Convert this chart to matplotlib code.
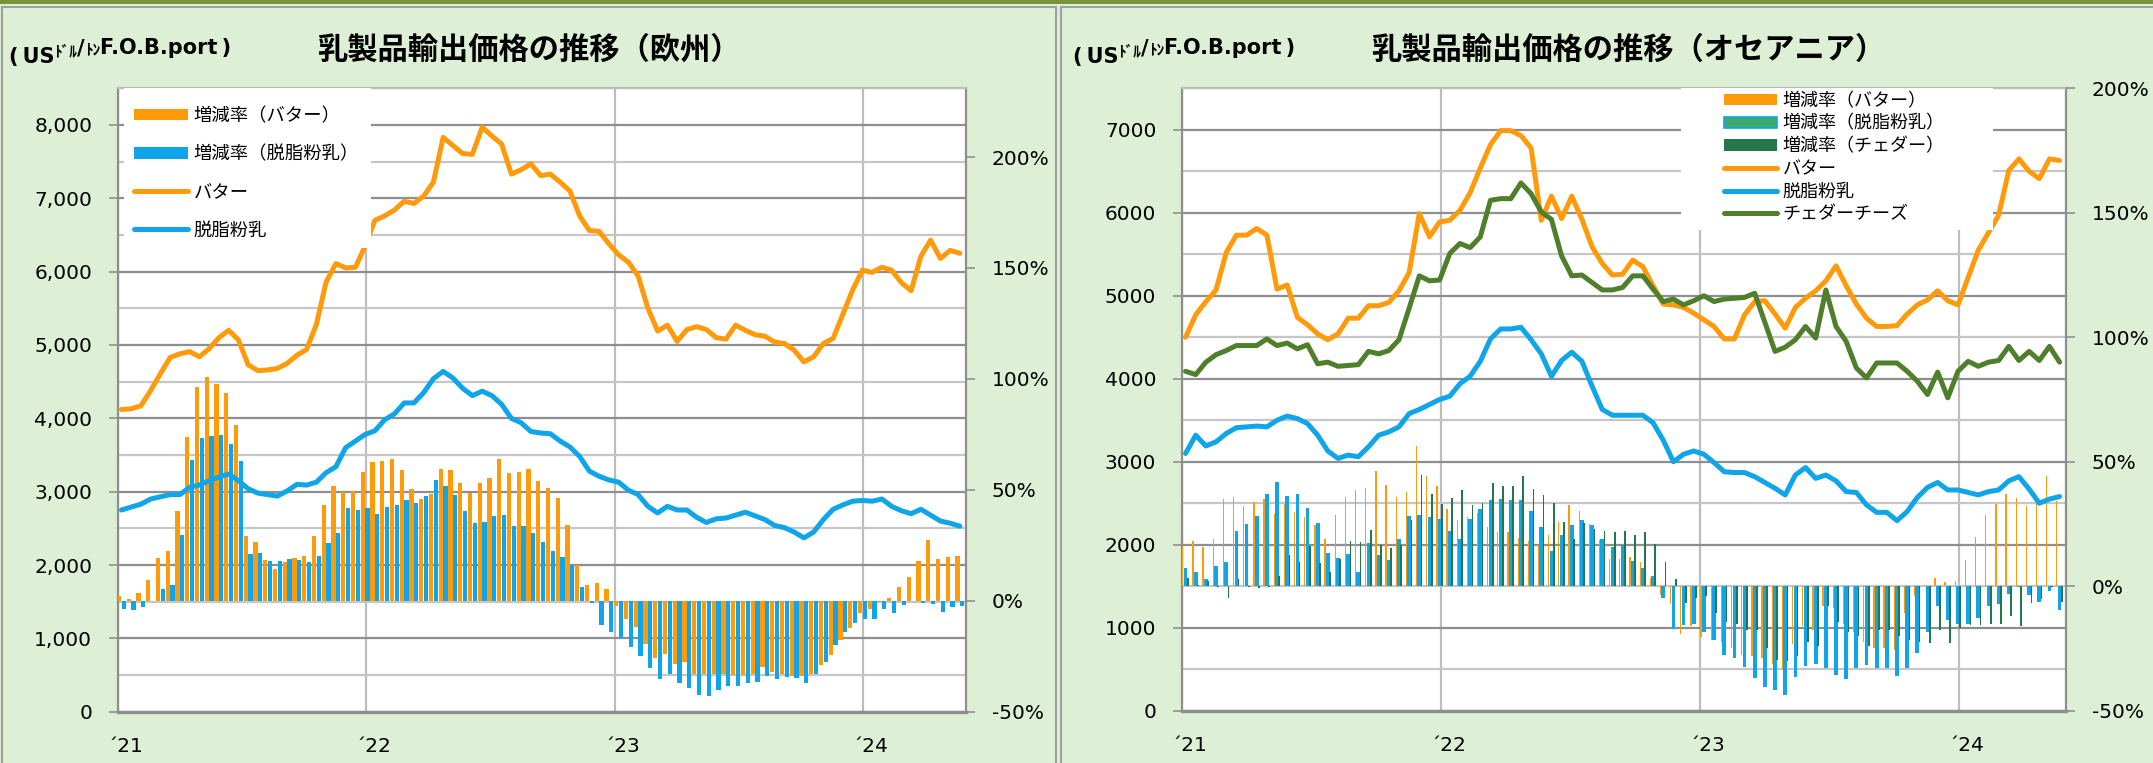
import numpy as np
import pandas as pd
import matplotlib
matplotlib.use("Agg")
import matplotlib.pyplot as plt
import matplotlib.dates as mdates
from matplotlib.patches import Rectangle, Patch
from matplotlib.lines import Line2D
from matplotlib.text import Annotation
from matplotlib.transforms import ScaledTranslation

plt.rcParams['font.family'] = ['DejaVu Sans', 'Noto Sans CJK JP']

# --- data (biweekly, USD/t F.O.B. and y/y change in %) --------------------
dates = pd.date_range('2021-01-06', '2024-05-22', periods=87)
year_ticks = pd.to_datetime(['2021-01-01', '2022-01-01', '2023-01-01', '2024-01-01'])
year_labels = ['\u00b421', '\u00b422', '\u00b423', '\u00b424']

eu_butter = [4120, 4130, 4170, 4380, 4610, 4830, 4880, 4910, 4840, 4950,
             5100, 5200, 5070, 4730, 4650, 4660, 4680, 4750, 4860, 4940,
             5280, 5860, 6110, 6050, 6060, 6350, 6700, 6760, 6840, 6960,
             6930, 7030, 7220, 7830, 7720, 7610, 7600, 7970, 7850, 7740,
             7330, 7390, 7470, 7310, 7330, 7220, 7100, 6760, 6560, 6550,
             6380, 6230, 6130, 5940, 5500, 5190, 5270, 5050, 5210, 5250,
             5210, 5100, 5080, 5270, 5200, 5140, 5120, 5040, 5020, 4930,
             4770, 4840, 5020, 5090, 5420, 5750, 6020, 5990, 6060, 6020,
             5850, 5740, 6210, 6430, 6180, 6290, 6250]
eu_smp = [2750, 2790, 2830, 2900, 2930, 2960, 2960, 3060, 3090, 3150,
          3200, 3240, 3150, 3040, 2980, 2960, 2940, 3010, 3100, 3090,
          3130, 3260, 3340, 3600, 3690, 3780, 3830, 3980, 4060, 4210,
          4210, 4350, 4540, 4640, 4550, 4410, 4310, 4370, 4310, 4190,
          4000, 3940, 3820, 3800, 3790, 3690, 3610, 3480, 3280, 3210,
          3160, 3130, 3020, 2960, 2800, 2710, 2800, 2750, 2750, 2650,
          2580, 2630, 2640, 2680, 2720, 2670, 2620, 2540, 2510, 2450,
          2370, 2450, 2620, 2760, 2820, 2870, 2880, 2870, 2900, 2800,
          2740, 2700, 2760, 2680, 2600, 2570, 2530]
eu_butter_yoy = [2.1, 1.0, 3.3, 9.3, 19.1, 22.3, 40.4, 73.6, 96.2, 100.7,
                 97.5, 93.7, 79.4, 29.2, 26.3, 18.2, 14.2, 17.5, 19.1, 20.2,
                 29.2, 43.2, 51.8, 49.1, 49.5, 58.0, 62.5, 63.1, 64.0, 59.1,
                 50.4, 45.9, 48.0, 59.4, 59.1, 53.1, 48.6, 53.1, 55.3, 64.0,
                 57.6, 58.2, 59.4, 54.0, 50.9, 46.4, 34.1, 16.0, 7.0, 8.2,
                 5.1, -2.4, -8.1, -11.7, -19.3, -25.6, -23.8, -28.3, -27.8, -32.9,
                 -32.9, -32.9, -33.2, -33.4, -33.4, -33.2, -29.8, -32.0, -32.9, -33.8,
                 -34.1, -32.9, -28.9, -24.4, -17.5, -12.1, -5.4, -3.5, -0.4, 1.2,
                 6.0, 10.9, 17.8, 27.2, 18.7, 19.6, 20.0]
eu_smp_yoy = [-3.9, -4.3, -3.0, 0.0, 5.5, 7.3, 29.6, 63.6, 73.4, 74.3,
              74.8, 70.7, 63.1, 21.1, 21.4, 17.8, 17.8, 18.7, 18.2, 17.5,
              20.2, 26.0, 30.5, 41.9, 41.0, 41.9, 39.2, 42.3, 43.2, 45.3,
              44.1, 47.3, 54.4, 51.7, 47.7, 40.4, 35.0, 35.4, 38.1, 38.6,
              33.7, 33.6, 30.5, 26.5, 22.3, 19.6, 16.0, 6.4, -1.2, -10.8,
              -14.2, -16.6, -20.7, -25.1, -30.5, -35.2, -33.2, -37.0, -39.2, -42.5,
              -42.8, -40.1, -38.6, -38.6, -36.9, -36.5, -33.8, -35.2, -34.3, -35.0,
              -37.0, -33.2, -27.4, -19.8, -13.9, -10.2, -8.4, -8.1, -3.5, -5.4,
              -2.1, -0.3, -1.2, -1.5, -5.2, -3.0, -2.4]

oc_butter = [4500, 4770, 4930, 5070, 5520, 5730, 5730, 5810, 5730, 5080,
             5130, 4740, 4650, 4540, 4470, 4540, 4730, 4730, 4880, 4880,
             4920, 5060, 5280, 5990, 5710, 5890, 5910, 6030, 6240, 6540,
             6820, 6990, 6990, 6930, 6780, 5910, 6200, 5930, 6200, 5920,
             5590, 5390, 5250, 5260, 5430, 5350, 5120, 4900, 4890, 4860,
             4790, 4710, 4630, 4480, 4480, 4770, 4930, 4940, 4780, 4610,
             4860, 4970, 5060, 5180, 5360, 5120, 4900, 4730, 4630, 4630,
             4640, 4780, 4890, 4950, 5060, 4940, 4890, 5220, 5550, 5760,
             5970, 6510, 6650, 6500, 6410, 6650, 6630]
oc_smp = [3100, 3320, 3190, 3240, 3340, 3410, 3420, 3430, 3420, 3500,
          3550, 3520, 3460, 3320, 3130, 3040, 3080, 3060, 3180, 3320,
          3360, 3420, 3580, 3630, 3690, 3750, 3790, 3940, 4030, 4210,
          4480, 4600, 4600, 4620, 4470, 4300, 4030, 4220, 4320, 4210,
          3910, 3630, 3560, 3560, 3560, 3560, 3470, 3260, 3000, 3090,
          3130, 3090, 2990, 2880, 2870, 2870, 2820, 2750, 2680, 2600,
          2840, 2930, 2800, 2840, 2770, 2640, 2630, 2480, 2390, 2390,
          2290, 2400, 2570, 2690, 2750, 2660, 2660, 2630, 2600, 2640,
          2660, 2770, 2820, 2670, 2500, 2550, 2580]
oc_cheddar = [4090, 4050, 4200, 4290, 4340, 4400, 4400, 4400, 4480, 4400,
              4430, 4360, 4410, 4180, 4200, 4150, 4160, 4170, 4330, 4300,
              4340, 4470, 4850, 5240, 5180, 5190, 5510, 5630, 5580, 5710,
              6150, 6170, 6170, 6360, 6230, 6010, 5920, 5480, 5240, 5250,
              5160, 5070, 5070, 5100, 5240, 5240, 5080, 4930, 4960, 4890,
              4940, 5000, 4930, 4960, 4970, 4980, 5030, 4680, 4330, 4380,
              4470, 4630, 4490, 5070, 4630, 4450, 4130, 4010, 4190, 4190,
              4190, 4090, 3970, 3810, 4080, 3770, 4090, 4210, 4150, 4200,
              4220, 4390, 4220, 4330, 4220, 4390, 4200]
oc_butter_yoy = [15.9, 18.0, 15.6, 18.8, 35.0, 35.8, 32.2, 33.8, 35.0, 29.0,
                 33.0, 29.8, 28.0, 24.5, 18.8, 28.5, 35.8, 38.7, 39.5, 46.3,
                 40.6, 35.8, 37.7, 56.3, 44.3, 40.3, 31.2, 26.4, 27.7, 29.3,
                 23.7, 21.7, 21.7, 19.3, 18.0, 16.4, 20.4, 25.6, 32.5, 30.1,
                 24.8, 18.5, 10.8, 11.1, 11.6, 9.6, 3.5, -3.4, -7.3, -19.1,
                 -15.9, -20.2, -21.5, -22.3, -24.8, -27.7, -28.0, -28.8, -31.2, -33.6,
                 -23.1, -15.9, -17.5, -7.8, -8.6, -15.1, -18.3, -22.3, -24.8, -24.8,
                 -25.6, -10.7, -4.1, 0.6, 3.5, 1.6, 1.9, 10.4, 19.9, 28.5,
                 32.9, 36.9, 35.4, 32.1, 33.3, 44.3, 34.2]
oc_smp_yoy = [7.5, 5.6, 3.0, 8.0, 9.9, 22.0, 24.8, 28.2, 37.0, 41.7,
              36.1, 37.0, 31.4, 25.3, 13.2, 11.2, 12.9, 5.9, 17.5, 12.4,
              10.4, 19.1, 28.2, 28.5, 27.7, 27.2, 22.0, 19.1, 26.9, 30.9,
              34.5, 35.0, 34.6, 34.6, 30.4, 23.7, 14.0, 20.4, 24.5, 26.4,
              24.5, 19.1, 15.6, 16.4, 10.0, 7.5, 4.0, -4.6, -17.0, -15.4,
              -15.1, -18.3, -21.5, -27.7, -28.8, -32.5, -36.9, -40.4, -41.7, -43.8,
              -36.4, -32.0, -31.2, -32.8, -35.7, -37.3, -32.8, -31.7, -32.8, -32.8,
              -36.1, -32.8, -26.7, -18.3, -7.8, -13.5, -15.1, -15.1, -12.7, -7.8,
              -7.0, -3.0, -0.2, -3.4, -6.2, -1.8, -9.4]
oc_cheddar_yoy = [3.5, 0.6, 1.9, -0.5, -4.6, 2.7, -0.5, -0.9, -0.5, 4.3,
                  12.4, 9.9, 16.1, 9.5, 5.9, 10.8, 18.0, 17.7, 22.4, 16.4,
                  15.3, 16.4, 26.4, 44.6, 37.0, 32.9, 35.3, 38.5, 32.5, 33.3,
                  41.4, 40.1, 40.1, 44.2, 39.0, 36.6, 33.3, 25.6, 18.8, 25.3,
                  22.9, 22.0, 21.6, 22.0, 20.4, 21.6, 16.9, 9.9, 2.7, -6.7,
                  -4.6, -3.8, -10.7, -14.3, -15.1, -17.5, -17.5, -24.8, -29.6, -30.0,
                  -28.0, -22.3, -24.0, -7.8, -14.3, -18.3, -19.9, -24.0, -17.5, -17.5,
                  -19.9, -21.5, -22.3, -22.8, -17.5, -22.8, -16.7, -15.4, -15.4, -15.1,
                  -15.1, -11.9, -15.9, -6.7, -5.1, -0.2, -6.2]

# --- style ---------------------------------------------------------------
W, H = 2153, 763
BG = '#DDEFD5'
OLIVE = '#77933C'
ORANGE = '#FF9A0A'
BLUE = '#0FA5E8'
LGREEN = '#4F7F2B'
DGREEN = '#23784A'
GRID_MAJ = '#8E8E8E'
GRID_MIN = '#C6C6C6'
JP = ['Noto Sans CJK JP']
MIX = ['DejaVu Sans', 'Noto Sans CJK JP']

fig = plt.figure(figsize=(W / 100, H / 100), dpi=100)
fig.patch.set_facecolor(BG)

# top band and panel frames
fig.add_artist(Rectangle((0, 1 - 4 / H), 1, 4 / H, transform=fig.transFigure,
                         facecolor=OLIVE, edgecolor='none'))
fig.add_artist(Rectangle((2 / W, -0.05), 1054 / W, 1.05 - 7.5 / H, transform=fig.transFigure,
                         fill=False, edgecolor='#A0A0A0', lw=1.5))
fig.add_artist(Rectangle((1061 / W, -0.05), 1.0, 1.05 - 7.5 / H, transform=fig.transFigure,
                         fill=False, edgecolor='#A0A0A0', lw=1.5))

xnum = mdates.date2num(dates)


def unit_label(x, y):
    # (USﾄﾞﾙ/ﾄﾝF.O.B.port) with the small katakana raised
    t = fig.text(x / W, 1 - y / H, '(\u2009US', va='baseline', ha='left',
                 fontsize=15, weight='bold', family=MIX)
    pieces = [('ﾄﾞﾙ', 11, 0.40), ('/', 15, 0.0), ('ﾄﾝ', 11, 0.06),
              ('F.O.B.port\u2009)', 15, 0.0)]
    for s, fs, dy in pieces:
        t = fig.add_artist(Annotation(s, xy=(1, dy), xycoords=t, va='bottom', ha='left',
                                      annotation_clip=False, fontsize=fs, weight='bold',
                                      family=MIX))


def panel(rect, ymax, pct_max, bar_specs, line_specs, comma, title, tx, leg_box, leg_anchor,
          leg_fs, leg_spacing):
    l, t, r, b = rect
    ax = fig.add_axes([l / W, 1 - b / H, (r - l) / W, (b - t) / H])
    ax.set_facecolor('white')
    ax.set_xlim(mdates.date2num(pd.Timestamp('2021-01-01')),
                mdates.date2num(pd.Timestamp('2021-01-01') + pd.Timedelta(days=1246)))
    ax.set_ylim(0, ymax)
    major = np.arange(0, ymax + 1, 1000)
    ax.set_yticks(major)
    ax.set_yticklabels([f'{v:,.0f}' if comma else f'{v:.0f}' for v in major])
    ax.set_yticks(np.arange(500, ymax + 1, 1000), minor=True)
    ax.grid(axis='y', which='major', color=GRID_MAJ, lw=1.6)
    ax.grid(axis='y', which='minor', color=GRID_MIN, lw=1.6)
    ax.set_xticks(mdates.date2num(year_ticks))
    ax.set_xticklabels(year_labels)
    ax.grid(axis='x', which='major', color='#BDBDBD', lw=1.6)
    ax.set_axisbelow(True)
    ax.tick_params(axis='y', which='major', direction='out', length=6.5, width=1.2,
                   color=GRID_MAJ, pad=12, labelsize=14.5)
    ax.tick_params(axis='y', which='minor', length=0)
    ax.tick_params(axis='x', length=0, pad=18, labelsize=14.5)
    for lab in ax.get_xticklabels():
        lab.set_transform(lab.get_transform() + ScaledTranslation(0.07, 0, fig.dpi_scale_trans))
    for side in ['left', 'right', 'bottom']:
        ax.spines[side].set_color(GRID_MAJ)
        ax.spines[side].set_linewidth(1.6)
    ax.spines['bottom'].set_linewidth(2.4)
    ax.spines['top'].set_color('#BDBDBD')
    ax.spines['top'].set_linewidth(1.6)

    # bars on the secondary (percent) axis
    ax2 = ax.twinx()
    ax2.set_ylim(-50, pct_max)
    for vals, color, off, wd in bar_specs:
        ax2.bar(xnum + off, vals, width=wd, color=color, linewidth=0)
    pt = np.arange(-50, 201, 50)
    ax2.set_yticks(pt)
    ax2.set_yticklabels([f'{v}%' for v in pt])
    ax2.tick_params(axis='y', direction='out', length=6.5, width=1.2, color=GRID_MAJ,
                    pad=12, labelsize=14.5)
    for s in ax2.spines.values():
        s.set_visible(False)

    # price lines on top
    ax3 = ax.twinx()
    ax3.set_ylim(0, ymax)
    ax3.yaxis.set_visible(False)
    for s in ax3.spines.values():
        s.set_visible(False)
    for vals, color in line_specs:
        ax3.plot(xnum, vals, color=color, lw=3.6, solid_joinstyle='round',
                 solid_capstyle='round')

    # legend on a white box
    bx0, by0, bx1, by1 = leg_box
    ax3.add_patch(Rectangle((bx0, by0), bx1 - bx0, by1 - by0, transform=ax3.transAxes,
                            facecolor='white', edgecolor='none', zorder=5))
    handles, labels = [], []
    for lab, (face, edge) in zip(title[1], title[2]):
        handles.append(Patch(facecolor=face, edgecolor=edge, lw=0 if edge == 'none' else 1.2))
        labels.append(lab)
    for (vals, color), lab in zip(line_specs, title[3]):
        handles.append(Line2D([], [], color=color, lw=3.6, solid_capstyle='round'))
        labels.append(lab)
    leg = ax3.legend(handles, labels, loc='upper left', bbox_to_anchor=leg_anchor,
                     frameon=False, borderpad=0, borderaxespad=0, handlelength=2.95,
                     handleheight=0.6, handletextpad=0.3, labelspacing=leg_spacing,
                     prop={'family': JP, 'size': leg_fs})
    leg.set_zorder(6)

    fig.text(tx / W, 1 - 50 / H, title[0], ha='center', va='center', fontsize=21.8,
             weight='bold', family=JP)
    return ax


# Europe
panel((118, 88.3, 966, 711.7), 8500, 231,
      [(eu_butter_yoy, ORANGE, -3.4, 6.2), (eu_smp_yoy, BLUE, 3.4, 6.2)],
      [(eu_butter, ORANGE), (eu_smp, BLUE)], True,
      ('乳製品輸出価格の推移（欧州）',
       ['増減率（バター）', '増減率（脱脂粉乳）'],
       [(ORANGE, 'none'), (BLUE, 'none')],
       ['バター', '脱脂粉乳']),
      529, (0.007, 0.744, 0.298, 1.0), (0.019, 0.970), 13.2, 1.1)

# Oceania
panel((1182, 88.3, 2066, 710.7), 7500, 200,
      [(oc_butter_yoy, ORANGE, -3.9, 1.8), (oc_smp_yoy, BLUE, 0.0, 5.2),
       (oc_cheddar_yoy, DGREEN, 3.2, 2.4)],
      [(oc_butter, ORANGE), (oc_smp, BLUE), (oc_cheddar, LGREEN)], False,
      ('乳製品輸出価格の推移（オセアニア）',
       ['増減率（バター）', '増減率（脱脂粉乳）', '増減率（チェダー）'],
       [(ORANGE, 'none'), ('#3DAA6E', BLUE), (DGREEN, 'none')],
       ['バター', '脱脂粉乳', 'チェダーチーズ']),
      1628, (0.5645, 0.7723, 0.9174, 1.0), (0.6131, 0.994), 13, 0.26)

unit_label(9, 63)
unit_label(1073, 63)

fig.savefig('out.png', dpi=100, facecolor=BG)
